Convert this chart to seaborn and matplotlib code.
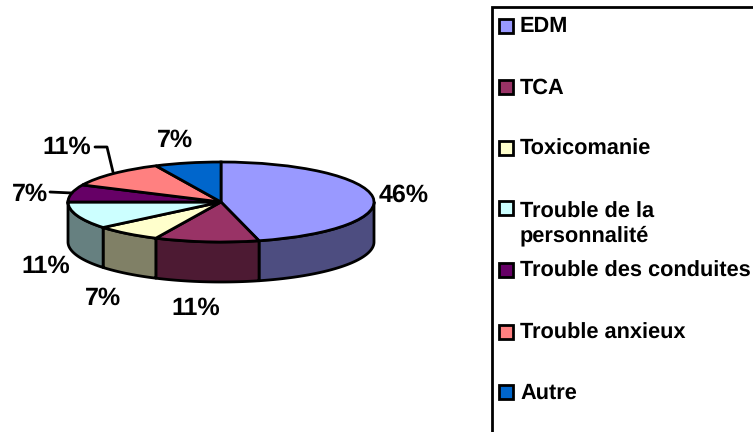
import numpy as np
import matplotlib
matplotlib.use('Agg')
import matplotlib.pyplot as plt
from matplotlib.patches import Rectangle
import seaborn as sns

categories = ['EDM', 'TCA', 'Toxicomanie', 'Trouble de la\npersonnalité',
              'Trouble des conduites', 'Trouble anxieux', 'Autre']
values = [46, 11, 7, 11, 7, 11, 7]
pct_labels = ['46%', '11%', '7%', '11%', '7%', '11%', '7%']
top_colors = ['#9999FF', '#993366', '#FFFFCC', '#CCFFFF', '#660066', '#FF8080', '#0066CC']
side_colors = ['#4D4D80', '#4D1A33', '#808066', '#668080', '#330033', '#804040', '#003366']

sns.set_theme(style='white')
plt.rcParams['font.family'] = ['Liberation Sans', 'DejaVu Sans']
plt.rcParams['font.weight'] = 'bold'
plt.rcParams['text.hinting'] = 'none'
plt.rcParams['text.kerning_factor'] = 0

W, H = 753, 432
# ellipse of the pie top, in pixels
cx, cy, rx, ry, depth = 221, 202, 153, 40, 40
lw = 2

fig = plt.figure(figsize=(W / 100, H / 100), dpi=100, facecolor='white')
ax = fig.add_axes([0, 0, 1, 1])

# top face
ax.pie(values, colors=sns.color_palette(top_colors), startangle=90, counterclock=False,
       radius=1, wedgeprops=dict(edgecolor='black', linewidth=lw, zorder=3))
ax.set_aspect('auto')
ax.set_xlim((0 - cx) / rx, (W - cx) / rx)
ax.set_ylim((cy - H) / ry, cy / ry)

# outer wall, only the front half can be seen
d = depth / ry
fracs = np.cumsum([0] + values) / sum(values)
for i in range(len(values)):
    a0 = max(fracs[i] * 360, 90)
    a1 = min(fracs[i + 1] * 360, 270)
    if a1 <= a0:
        continue
    t = np.radians(np.linspace(a0, a1, 60))
    x = np.sin(t)
    y = np.cos(t)
    ax.fill(np.r_[x, x[::-1]], np.r_[y, y[::-1] - d], facecolor=side_colors[i],
            edgecolor='black', linewidth=lw, zorder=2, joinstyle='round')

# overlay in pixel coordinates for texts and legend
ov = fig.add_axes([0, 0, 1, 1], facecolor='none')
ov.set_xlim(0, W)
ov.set_ylim(H, 0)
ov.axis('off')

label_pos = [(404, 195), (196, 308), (103, 298), (46, 266), (30, 194), (67, 147), (175, 140)]
for lab, (px, py) in zip(pct_labels, label_pos):
    ov.text(px, py, lab, fontsize=18, fontweight='bold', color='black', ha='center', va='center')

# leader lines
ov.plot([95, 107, 113], [147, 147, 172], color='black', lw=lw)
ov.plot([50, 72], [192, 193], color='black', lw=lw)

# legend, cut by the image border
ov.add_patch(Rectangle((492, 7), 300, 460, facecolor='white', edgecolor='black', linewidth=2, clip_on=True))
square_y = [25.5, 87, 148, 208, 270, 332, 392]
text_y = [26.5, 88.5, 149.5, 224, 271.5, 333.5, 393.5]
for name, col, sy, ty in zip(categories, top_colors, square_y, text_y):
    ov.add_patch(Rectangle((499.5, sy - 7), 14, 14, facecolor=col, edgecolor='black', linewidth=2))
    ov.text(520, ty, name, fontsize=15.7, fontweight='bold', color='black', ha='left', va='center',
            linespacing=1.2)

sns.despine(ax=ax, left=True, bottom=True)
fig.savefig('out.png', dpi=100, facecolor='white')
